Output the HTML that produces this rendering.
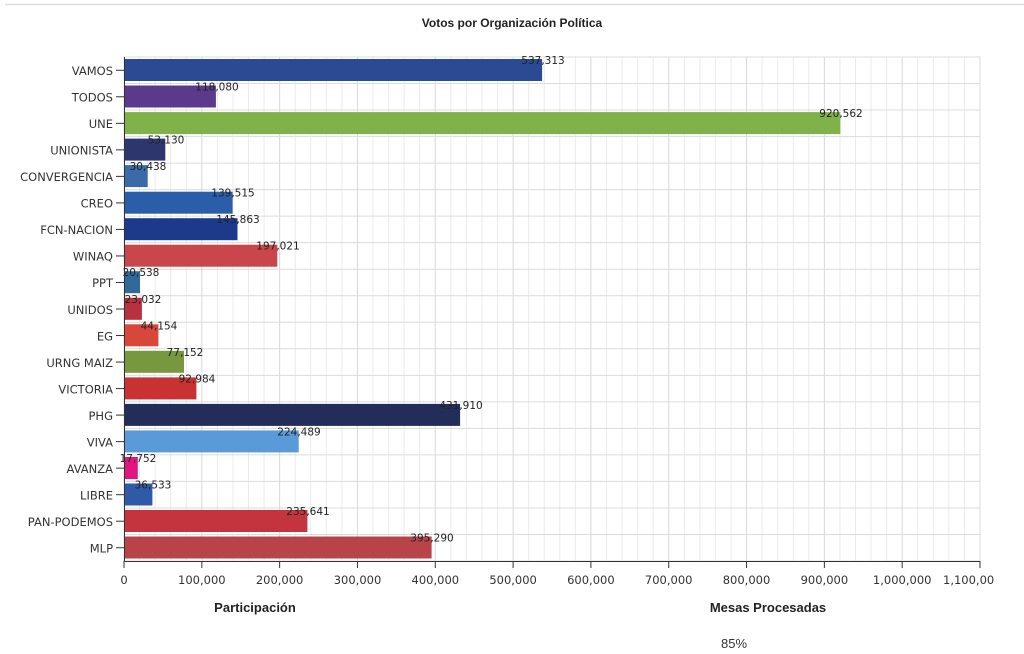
<!DOCTYPE html>
<html><head><meta charset="utf-8"><style>
html,body{margin:0;padding:0;background:#fff;width:1024px;height:654px;overflow:hidden}
svg{display:block;font-family:"Liberation Sans",sans-serif}
.cat{font-size:11.5px;fill:#333;text-anchor:end;font-family:"DejaVu Sans",sans-serif}
.val{font-size:10.5px;fill:#222;text-anchor:middle;font-family:"DejaVu Sans",sans-serif}
.tk{font-size:11.5px;fill:#333;text-anchor:middle;font-family:"DejaVu Sans",sans-serif}
</style></head><body>
<svg width="1024" height="654" viewBox="0 0 1024 654" xmlns="http://www.w3.org/2000/svg">
<line x1="5" y1="4.5" x2="1024" y2="4.5" stroke="#ddd" stroke-width="1.5"/>
<text x="512" y="27" font-size="12" font-weight="bold" fill="#222" text-anchor="middle">Votos por Organización Política</text>
<g id="grid" stroke="#e3e3e3" stroke-width="1"></g>
<rect x="124" y="57" width="856" height="504" fill="none" stroke="#ddd"/>
<g>
<rect x="124" y="59" width="418.1" height="22" fill="#2a4a94"/>
<rect x="124" y="85.5" width="91.9" height="22" fill="#5b3a8c"/>
<rect x="124" y="112.1" width="716.4" height="22" fill="#7fb24a"/>
<rect x="124" y="138.6" width="41.3" height="22" fill="#2e3670"/>
<rect x="124" y="165.1" width="23.7" height="22" fill="#3b6aa8"/>
<rect x="124" y="191.7" width="108.6" height="22" fill="#2a5ea8"/>
<rect x="124" y="218.2" width="113.5" height="22" fill="#1c3a8c"/>
<rect x="124" y="244.7" width="153.3" height="22" fill="#c9474a"/>
<rect x="124" y="271.2" width="16" height="22" fill="#2f6a9a"/>
<rect x="124" y="297.8" width="17.9" height="22" fill="#b9303f"/>
<rect x="124" y="324.3" width="34.4" height="22" fill="#d9473a"/>
<rect x="124" y="350.8" width="60" height="22" fill="#77983e"/>
<rect x="124" y="377.4" width="72.4" height="22" fill="#c93232"/>
<rect x="124" y="403.9" width="336.1" height="22" fill="#232d5a"/>
<rect x="124" y="430.4" width="174.7" height="22" fill="#5a9ad8"/>
<rect x="124" y="457" width="13.8" height="22" fill="#e0177e"/>
<rect x="124" y="483.5" width="28.4" height="22" fill="#2f5aa8"/>
<rect x="124" y="510" width="183.4" height="22" fill="#c4343e"/>
<rect x="124" y="536.5" width="307.6" height="22" fill="#b8444a"/>
</g>
<g>
<text class="val" x="543" y="64">537,313</text>
<text class="val" x="217" y="90.5">118,080</text>
<text class="val" x="841" y="117.1">920,562</text>
<text class="val" x="166" y="143.6">53,130</text>
<text class="val" x="148" y="170.1">30,438</text>
<text class="val" x="233" y="196.7">139,515</text>
<text class="val" x="238" y="223.2">145,863</text>
<text class="val" x="278" y="249.7">197,021</text>
<text class="val" x="141" y="276.2">20,538</text>
<text class="val" x="143" y="302.8">23,032</text>
<text class="val" x="159" y="329.3">44,154</text>
<text class="val" x="185" y="355.8">77,152</text>
<text class="val" x="197" y="382.4">92,984</text>
<text class="val" x="461" y="408.9">431,910</text>
<text class="val" x="299" y="435.4">224,489</text>
<text class="val" x="138" y="462">17,752</text>
<text class="val" x="153" y="488.5">36,533</text>
<text class="val" x="308" y="515">235,641</text>
<text class="val" x="432" y="541.5">395,290</text>
</g>
<g>
<text class="cat" x="113" y="75">VAMOS</text>
<text class="cat" x="113" y="101.5">TODOS</text>
<text class="cat" x="113" y="128.1">UNE</text>
<text class="cat" x="113" y="154.6">UNIONISTA</text>
<text class="cat" x="113" y="181.1">CONVERGENCIA</text>
<text class="cat" x="113" y="207.7">CREO</text>
<text class="cat" x="113" y="234.2">FCN-NACION</text>
<text class="cat" x="113" y="260.7">WINAQ</text>
<text class="cat" x="113" y="287.2">PPT</text>
<text class="cat" x="113" y="313.8">UNIDOS</text>
<text class="cat" x="113" y="340.3">EG</text>
<text class="cat" x="113" y="366.8">URNG MAIZ</text>
<text class="cat" x="113" y="393.4">VICTORIA</text>
<text class="cat" x="113" y="419.9">PHG</text>
<text class="cat" x="113" y="446.4">VIVA</text>
<text class="cat" x="113" y="473">AVANZA</text>
<text class="cat" x="113" y="499.5">LIBRE</text>
<text class="cat" x="113" y="526">PAN-PODEMOS</text>
<text class="cat" x="113" y="552.5">MLP</text>
</g>
<g id="ticks" stroke="#333" stroke-width="1"></g>
<line x1="124" y1="561.5" x2="980" y2="561.5" stroke="#333"/>
<line x1="124.5" y1="57" x2="124.5" y2="562" stroke="#333"/>
<g>
<text class="tk" x="124" y="584">0</text>
<text class="tk" x="201.8" y="584">100,000</text>
<text class="tk" x="279.6" y="584">200,000</text>
<text class="tk" x="357.5" y="584">300,000</text>
<text class="tk" x="435.3" y="584">400,000</text>
<text class="tk" x="513.1" y="584">500,000</text>
<text class="tk" x="590.9" y="584">600,000</text>
<text class="tk" x="668.7" y="584">700,000</text>
<text class="tk" x="746.5" y="584">800,000</text>
<text class="tk" x="824.4" y="584">900,000</text>
<text class="tk" x="902.2" y="584">1,000,000</text>
<text x="943" y="584" font-size="11.5" fill="#333" font-family="DejaVu Sans, sans-serif">1,100,00</text>
</g>
<text x="255" y="612" font-size="13" font-weight="bold" fill="#222" text-anchor="middle">Participación</text>
<text x="768" y="612" font-size="13" font-weight="bold" fill="#222" text-anchor="middle">Mesas Procesadas</text>
<text x="734" y="648" font-size="13" fill="#333" text-anchor="middle">85%</text>
</svg>
<script>
var ns="http://www.w3.org/2000/svg",g=document.getElementById("grid"),t=document.getElementById("ticks");
function L(p,x1,y1,x2,y2,c){var l=document.createElementNS(ns,"line");l.setAttribute("x1",x1);l.setAttribute("y1",y1);l.setAttribute("x2",x2);l.setAttribute("y2",y2);if(c)l.setAttribute("stroke",c);p.appendChild(l);}
for(var i=1;i<=55;i++){var x=124+i*856/55;L(g,x,57,x,561,i%5==0?"#d8d8d8":"#ebebeb");}
for(var j=0;j<=19;j++){var y=57+j*504/19;L(g,124,y,980,y,"#dcdcdc");}
for(var j=0;j<19;j++){var y=57+(j+0.5)*504/19;L(t,116,y,124,y);}
for(var i=0;i<=11;i++){var x=124+i*856/11;L(t,x,561,x,568);}
</script>
</body></html>
